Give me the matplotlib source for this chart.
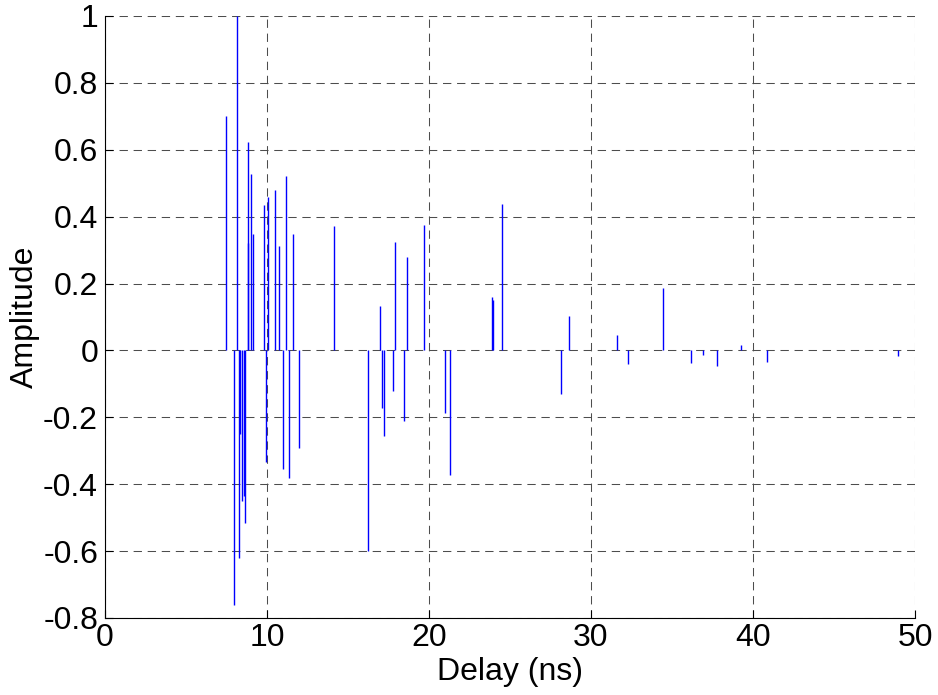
import numpy as np
import matplotlib
matplotlib.use('Agg')
from matplotlib import pyplot as plt
from matplotlib.ticker import FormatStrFormatter

# multipath delays (ns) and tap amplitudes
delay = [7.47, 7.98, 8.13, 8.29, 8.33, 8.48, 8.56, 8.64, 8.81, 8.83, 8.99, 9.16,
         9.81, 9.92, 10.05, 10.51, 10.76, 11.01, 11.19, 11.34, 11.58, 12.0,
         14.14, 16.26, 17.0, 17.08, 17.24, 17.76, 17.92, 18.44, 18.62, 19.71,
         20.97, 21.3, 23.9, 23.96, 24.5, 28.13, 28.64, 31.58, 32.26, 34.44,
         36.15, 36.89, 37.76, 39.28, 40.88, 48.97]
amp = [0.70, -0.76, 1.0, -0.62, -0.25, -0.45, -0.435, -0.515, 0.32, 0.623, 0.527, 0.349,
       0.434, -0.335, 0.46, 0.48, 0.312, -0.354, 0.522, -0.38, 0.349, -0.293,
       0.371, -0.60, 0.134, -0.172, -0.257, -0.12, 0.325, -0.21, 0.279, 0.376,
       -0.187, -0.372, 0.16, 0.15, 0.437, -0.13, 0.104, 0.046, -0.042, 0.187,
       -0.039, -0.015, -0.046, 0.015, -0.035, -0.017]

xticks = [0, 10, 20, 30, 40, 50]
yticks = [-0.8, -0.6, -0.4, -0.2, 0, 0.2, 0.4, 0.6, 0.8, 1]

plt.rcParams['font.family'] = ['Liberation Sans', 'DejaVu Sans']
plt.rcParams['axes.unicode_minus'] = False

fig = plt.figure(figsize=(9.38, 6.95), dpi=100)
ax = fig.add_axes([0.1119, 0.1108, 0.8636, 0.8662])

ax.vlines(delay, 0, amp, colors='b', linewidth=1.0)

ax.set_xlim(0, 50)
ax.set_ylim(-0.8, 1)
ax.set_xticks(xticks)
ax.set_yticks(yticks)
ax.yaxis.set_major_formatter(FormatStrFormatter('%g'))

# matlab style dashed grid, box off
ax.grid(True, color='0.3', linestyle=(0, (8, 5.5)), linewidth=0.75)
ax.set_axisbelow(True)
ax.spines['top'].set_visible(False)
ax.spines['right'].set_visible(False)
ax.tick_params(direction='in', length=6, labelsize=23, width=0.8)
ax.tick_params(axis='y', pad=5)

ax.set_xlabel('Delay (ns)', fontsize=23, labelpad=3)
ax.set_ylabel('Amplitude', fontsize=23, labelpad=2)

plt.savefig('out.png', dpi=100)
